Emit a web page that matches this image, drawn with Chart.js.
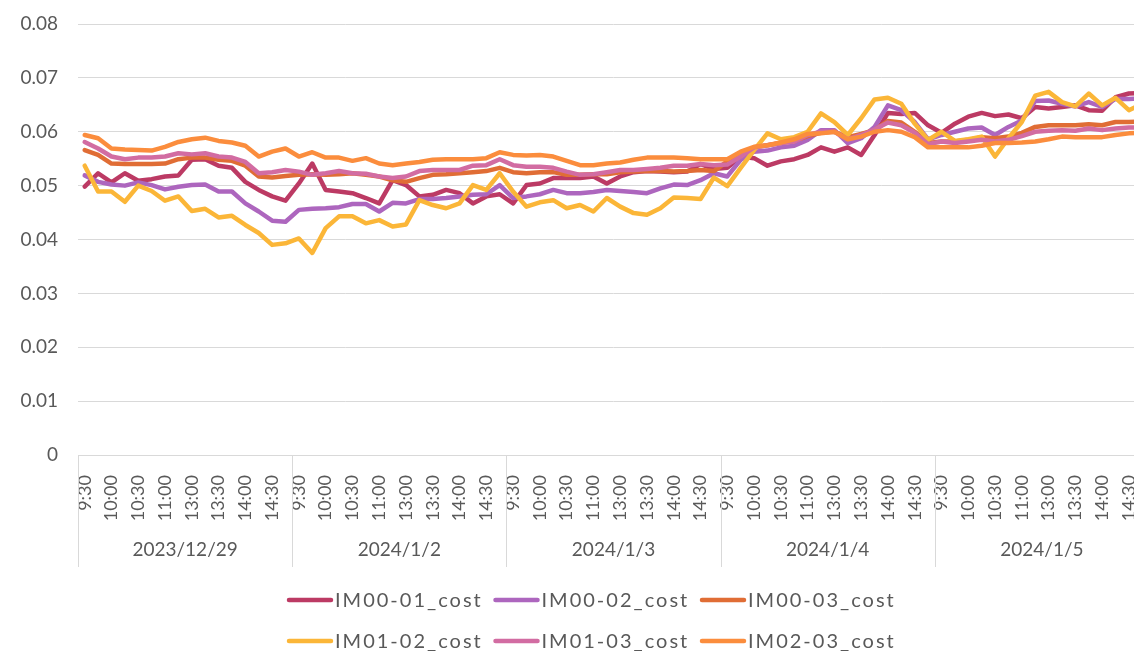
<!DOCTYPE html>
<html>
<head>
<meta charset="utf-8">
<script src="https://cdn.jsdelivr.net/npm/chart.js@4"></script>
<style>
  html, body { margin: 0; padding: 0; background: #fff; overflow: hidden; }
  #wrap { position: relative; width: 1182px; height: 651px; }
</style>
</head>
<body>
<div id="wrap"><canvas id="chart"></canvas></div>
<script>
// categories
const days = ['2023/12/29', '2024/1/2', '2024/1/3', '2024/1/4', '2024/1/5'];
const times = ['9:30', '9:45', '10:00', '10:15', '10:30', '10:45', '11:00', '11:15',
               '13:00', '13:15', '13:30', '13:45', '14:00', '14:15', '14:30', '14:45'];
// only every other time is labelled on the axis
const tickTimes = ['9:30', '10:00', '10:30', '11:00', '13:00', '13:30', '14:00', '14:30'];
const yTickLabels = ['0', '0.01', '0.02', '0.03', '0.04', '0.05', '0.06', '0.07', '0.08'];

// series values
const im0001 = [
  0.0498, 0.0523, 0.0506, 0.0523, 0.0509, 0.0512, 0.0517, 0.0519, 0.0548, 0.0549, 0.0537, 0.0533, 0.0507, 0.0492, 0.0480, 0.0472,
  0.0504, 0.0541, 0.0492, 0.0489, 0.0486, 0.0477, 0.0467, 0.0510, 0.0501, 0.0480, 0.0483, 0.0492, 0.0486, 0.0467, 0.0480, 0.0484,
  0.0467, 0.0501, 0.0504, 0.0514, 0.0514, 0.0514, 0.0517, 0.0504, 0.0517, 0.0525, 0.0527, 0.0526, 0.0525, 0.0526, 0.0540, 0.0531,
  0.0533, 0.0554, 0.0551, 0.0537, 0.0545, 0.0549, 0.0557, 0.0571, 0.0563, 0.0571, 0.0557, 0.0594, 0.0635, 0.0633, 0.0635, 0.0612,
  0.0598, 0.0615, 0.0628, 0.0635, 0.0629, 0.0632, 0.0625, 0.0646, 0.0643, 0.0646, 0.0649, 0.0640, 0.0639, 0.0664, 0.0671, 0.0672
];
const im0002 = [
  0.0519, 0.0507, 0.0502, 0.0500, 0.0506, 0.0501, 0.0493, 0.0498, 0.0501, 0.0502, 0.0489, 0.0489, 0.0467, 0.0452, 0.0435, 0.0433,
  0.0455, 0.0457, 0.0458, 0.0460, 0.0466, 0.0466, 0.0452, 0.0468, 0.0467, 0.0475, 0.0475, 0.0477, 0.0480, 0.0483, 0.0484, 0.0501,
  0.0477, 0.0480, 0.0484, 0.0492, 0.0486, 0.0486, 0.0488, 0.0492, 0.0490, 0.0488, 0.0486, 0.0495, 0.0502, 0.0501, 0.0510, 0.0523,
  0.0517, 0.0548, 0.0563, 0.0565, 0.0571, 0.0574, 0.0585, 0.0603, 0.0603, 0.0579, 0.0588, 0.0609, 0.0649, 0.0640, 0.0618, 0.0586,
  0.0594, 0.0600, 0.0606, 0.0608, 0.0594, 0.0609, 0.0621, 0.0657, 0.0658, 0.0652, 0.0647, 0.0655, 0.0646, 0.0661, 0.0661, 0.0662
];
const im0003 = [
  0.0566, 0.0557, 0.0541, 0.0540, 0.0540, 0.0540, 0.0541, 0.0549, 0.0552, 0.0552, 0.0548, 0.0546, 0.0537, 0.0517, 0.0515, 0.0518,
  0.0520, 0.0521, 0.0520, 0.0521, 0.0523, 0.0520, 0.0517, 0.0510, 0.0507, 0.0514, 0.0520, 0.0521, 0.0523, 0.0525, 0.0527, 0.0533,
  0.0525, 0.0523, 0.0525, 0.0525, 0.0520, 0.0520, 0.0521, 0.0521, 0.0525, 0.0526, 0.0527, 0.0527, 0.0526, 0.0527, 0.0529, 0.0527,
  0.0545, 0.0557, 0.0571, 0.0575, 0.0579, 0.0583, 0.0592, 0.0598, 0.0600, 0.0590, 0.0596, 0.0603, 0.0620, 0.0617, 0.0600, 0.0579,
  0.0582, 0.0582, 0.0585, 0.0590, 0.0588, 0.0591, 0.0598, 0.0609, 0.0612, 0.0612, 0.0612, 0.0614, 0.0612, 0.0618, 0.0618, 0.0619
];
const im0102 = [
  0.0537, 0.0489, 0.0489, 0.0470, 0.0500, 0.0490, 0.0472, 0.0480, 0.0453, 0.0457, 0.0441, 0.0444, 0.0427, 0.0412, 0.0390, 0.0393,
  0.0402, 0.0375, 0.0421, 0.0443, 0.0443, 0.0430, 0.0436, 0.0424, 0.0428, 0.0473, 0.0464, 0.0458, 0.0467, 0.0501, 0.0492, 0.0523,
  0.0489, 0.0461, 0.0469, 0.0473, 0.0458, 0.0464, 0.0452, 0.0477, 0.0461, 0.0449, 0.0446, 0.0458, 0.0478, 0.0477, 0.0475, 0.0515,
  0.0499, 0.0533, 0.0566, 0.0597, 0.0586, 0.0590, 0.0600, 0.0634, 0.0618, 0.0594, 0.0625, 0.0660, 0.0663, 0.0652, 0.0615, 0.0585,
  0.0600, 0.0583, 0.0586, 0.0591, 0.0554, 0.0588, 0.0618, 0.0667, 0.0674, 0.0655, 0.0647, 0.0671, 0.0649, 0.0663, 0.0640, 0.0652
];
const im0103 = [
  0.0581, 0.0569, 0.0554, 0.0549, 0.0552, 0.0552, 0.0554, 0.0560, 0.0558, 0.0560, 0.0554, 0.0552, 0.0544, 0.0523, 0.0525, 0.0529,
  0.0526, 0.0520, 0.0523, 0.0527, 0.0523, 0.0522, 0.0517, 0.0514, 0.0517, 0.0527, 0.0529, 0.0529, 0.0529, 0.0537, 0.0538, 0.0549,
  0.0538, 0.0535, 0.0535, 0.0533, 0.0526, 0.0520, 0.0521, 0.0525, 0.0529, 0.0529, 0.0531, 0.0533, 0.0537, 0.0537, 0.0540, 0.0538,
  0.0539, 0.0554, 0.0571, 0.0575, 0.0579, 0.0582, 0.0594, 0.0600, 0.0600, 0.0586, 0.0594, 0.0604, 0.0617, 0.0612, 0.0598, 0.0577,
  0.0582, 0.0579, 0.0582, 0.0585, 0.0582, 0.0585, 0.0592, 0.0600, 0.0602, 0.0603, 0.0602, 0.0606, 0.0603, 0.0606, 0.0608, 0.0608
];
const im0203 = [
  0.0594, 0.0588, 0.0569, 0.0567, 0.0566, 0.0565, 0.0572, 0.0581, 0.0586, 0.0589, 0.0583, 0.0580, 0.0574, 0.0554, 0.0563, 0.0569,
  0.0554, 0.0562, 0.0552, 0.0552, 0.0546, 0.0551, 0.0541, 0.0538, 0.0541, 0.0544, 0.0548, 0.0549, 0.0549, 0.0549, 0.0551, 0.0562,
  0.0557, 0.0556, 0.0557, 0.0554, 0.0546, 0.0538, 0.0538, 0.0541, 0.0543, 0.0548, 0.0552, 0.0552, 0.0552, 0.0551, 0.0549, 0.0549,
  0.0549, 0.0563, 0.0572, 0.0575, 0.0580, 0.0586, 0.0596, 0.0597, 0.0600, 0.0586, 0.0591, 0.0600, 0.0603, 0.0600, 0.0590, 0.0571,
  0.0571, 0.0571, 0.0571, 0.0574, 0.0579, 0.0579, 0.0580, 0.0582, 0.0586, 0.0591, 0.0590, 0.0590, 0.0590, 0.0594, 0.0597, 0.0598
];

const seriesNames = ['IM00-01_cost', 'IM00-02_cost', 'IM00-03_cost', 'IM01-02_cost', 'IM01-03_cost', 'IM02-03_cost'];
const seriesData = [im0001, im0002, im0003, im0102, im0103, im0203];
const seriesColors = ['#BC3A64', '#AD66BE', '#E06D35', '#FBB638', '#D26CA2', '#FB8D3D'];

const FONT = 'Lato, "Open Sans", sans-serif';
const TEXT = '#595959';
const GRID = '#d9d9d9';

// one label per point: day + time
const labels = [];
days.forEach(d => times.forEach(t => labels.push([d, t])));

// day groups, separators and the legend, drawn Excel style
const groupAxis = {
    id: 'groupAxis',
    afterDraw(chart) {
        const c = chart.ctx;
        const area = chart.chartArea;
        const x = chart.scales.x;
        const step = x.getPixelForValue(1) - x.getPixelForValue(0);
        const start = x.getPixelForValue(0) - step / 2;
        c.save();
        c.strokeStyle = GRID;
        c.lineWidth = 1;
        for (let d = 0; d <= days.length; d++) {
            const px = Math.round(start + d * times.length * step) + 0.5;
            c.beginPath();
            c.moveTo(px, area.bottom);
            c.lineTo(px, 567);
            c.stroke();
        }
        c.fillStyle = TEXT;
        c.font = '19px ' + FONT;
        c.textAlign = 'center';
        c.textBaseline = 'middle';
        days.forEach((d, i) => {
            c.fillText(d, start + (i + 0.5) * times.length * step, 550);
        });

        // legend, 3 per row
        c.font = '20px ' + FONT;
        c.letterSpacing = '2px';
        c.textAlign = 'left';
        c.lineCap = 'round';
        seriesNames.forEach((name, i) => {
            const lx = 289 + (i % 3) * 206.5;
            const ly = 600 + Math.floor(i / 3) * 41;
            c.strokeStyle = seriesColors[i];
            c.lineWidth = 4.5;
            c.beginPath();
            c.moveTo(lx, ly);
            c.lineTo(lx + 42, ly);
            c.stroke();
            c.fillText(name, lx + 46, ly + 1);
        });
        c.restore();
    }
};

const ctx = document.getElementById('chart').getContext('2d');
new Chart(ctx, {
    type: 'line',
    data: {
        labels: labels,
        datasets: seriesData.map((vals, i) => ({
            label: seriesNames[i],
            data: vals,
            borderColor: seriesColors[i],
            backgroundColor: seriesColors[i],
            borderWidth: 4.5,
            pointRadius: 0,
            tension: 0,
            borderJoinStyle: 'round',
            borderCapStyle: 'round',
            order: seriesData.length - i
        }))
    },
    options: {
        responsive: true,
        maintainAspectRatio: false,
        animation: false,
        layout: { padding: { left: 0, right: 33, top: 24, bottom: 126 } },
        plugins: {
            legend: { display: false },
            tooltip: { enabled: false }
        },
        scales: {
            x: {
                type: 'category',
                offset: true,
                grid: { display: false },
                border: { display: true, color: GRID, width: 1 },
                ticks: {
                    autoSkip: false,
                    maxRotation: 90,
                    minRotation: 90,
                    padding: 12,
                    color: TEXT,
                    font: { family: FONT, size: 18 },
                    callback: (val, idx) => idx % 2 === 0 ? tickTimes[(idx % times.length) / 2] : ''
                },
                afterFit: (scale) => { scale.height = 70; scale.paddingLeft = 0; scale.paddingRight = 0; }
            },
            y: {
                min: 0,
                max: 0.08,
                ticks: {
                    stepSize: 0.01,
                    padding: 20,
                    color: TEXT,
                    font: { family: FONT, size: 19 },
                    callback: (val, idx) => yTickLabels[idx]
                },
                grid: { color: GRID, lineWidth: 1, drawTicks: false },
                border: { display: false },
                afterFit: (scale) => { scale.width = 78; scale.paddingTop = 0; scale.paddingBottom = 0; }
            }
        }
    },
    plugins: [groupAxis]
});
</script>
</body>
</html>
